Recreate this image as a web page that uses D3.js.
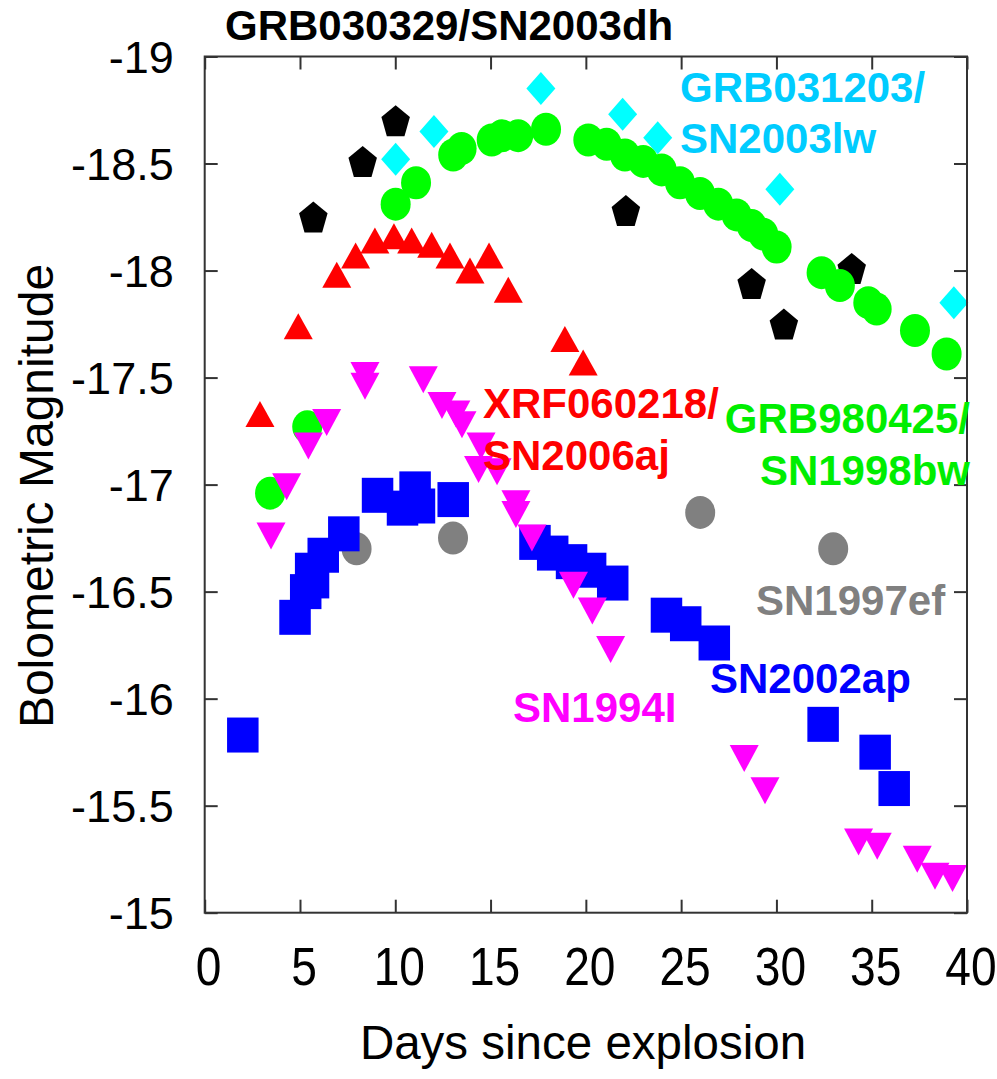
<!DOCTYPE html>
<html>
<head>
<meta charset="utf-8">
<script src="https://cdn.jsdelivr.net/npm/d3@7"></script>
<style>
  html, body { margin: 0; padding: 0; background: #fff; }
  svg { display: block; }
  text { font-family: "Liberation Sans", Arial, sans-serif; }
</style>
</head>
<body>
<svg id="chart" width="997" height="1079"></svg>
<script>
// ---------------- DATA ----------------
const xTicks = [0, 5, 10, 15, 20, 25, 30, 35, 40];
const yTicks = [-19, -18.5, -18, -17.5, -17, -16.5, -16, -15.5, -15];
const yTickLabels = ["-19", "-18.5", "-18", "-17.5", "-17", "-16.5", "-16", "-15.5", "-15"];

// GRB030329/SN2003dh (black pentagons)
const sn2003dhDays = [5.70, 8.29, 10.02, 22.10, 28.70, 30.39, 33.95];
const sn2003dhMag  = [-18.25, -18.51, -18.70, -18.28, -17.94, -17.75, -18.01];

// GRB031203/SN2003lw (cyan diamonds)
const sn2003lwDays = [10.02, 12.03, 17.64, 21.93, 23.77, 30.18, 39.31];
const sn2003lwMag  = [-18.52, -18.65, -18.85, -18.73, -18.62, -18.38, -17.85];

// GRB980425/SN1998bw (green circles)
const sn1998bwDays = [3.43, 5.38, 10.02, 11.09, 13.04, 13.48, 15.06, 15.60, 16.45, 17.91,
                      20.13, 21.09, 22.05, 23.01, 23.98, 24.94, 25.99, 26.95, 27.91, 28.70,
                      29.31, 30.01, 32.37, 33.33, 34.82, 35.26, 37.27, 38.93];
const sn1998bwMag  = [-16.96, -17.27, -18.31, -18.41, -18.54, -18.57, -18.61, -18.63, -18.63, -18.66,
                      -18.61, -18.59, -18.54, -18.51, -18.47, -18.41, -18.36, -18.31, -18.26, -18.21,
                      -18.17, -18.11, -17.99, -17.93, -17.85, -17.82, -17.72, -17.61];

// XRF060218/SN2006aj (red triangles)
const sn2006ajDays = [2.90, 4.91, 6.93, 7.92, 8.93, 9.93, 10.86, 11.91, 12.87, 13.92, 14.92, 15.93, 18.90, 19.86];
const sn2006ajMag  = [-17.33, -17.74, -17.98, -18.07, -18.14, -18.16, -18.14, -18.12, -18.07, -18.00, -18.07, -17.91, -17.68, -17.57];

// SN1997ef (grey circles)
const sn1997efDays = [7.97, 13.03, 26.00, 32.98];
const sn1997efMag  = [-16.70, -16.75, -16.87, -16.70];

// SN2002ap (blue squares)
const sn2002apDays = [2.00, 4.74, 5.30, 5.71, 5.56, 6.22, 7.30, 9.07, 10.38, 11.04, 11.27, 13.04,
                      17.33, 18.26, 19.25, 20.25, 21.41, 24.23, 25.24, 26.74, 32.45, 35.18, 36.18];
const sn2002apMag  = [-15.83, -16.38, -16.50, -16.55, -16.60, -16.67, -16.77, -16.95, -16.89, -16.98, -16.90, -16.93,
                      -16.73, -16.68, -16.64, -16.60, -16.54, -16.39, -16.35, -16.26, -15.88, -15.75, -15.58];

// SN1994I (magenta inverted triangles)
const sn1994IDays = [3.48, 4.30, 5.44, 6.40, 8.41, 8.41, 11.47, 12.45, 13.18, 13.50, 14.50, 14.37, 15.34,
                     16.33, 16.33, 17.17, 19.35, 20.34, 21.30, 28.31, 29.40, 34.31, 35.29, 37.39, 38.32, 39.24];
const sn1994IMag  = [-16.76, -16.99, -17.18, -17.29, -17.51, -17.46, -17.49, -17.37, -17.33, -17.28, -17.18, -17.07, -17.06,
                     -16.91, -16.86, -16.75, -16.53, -16.41, -16.23, -15.72, -15.57, -15.33, -15.31, -15.25, -15.17, -15.16];

// ---------------- CHART ----------------
const svg = d3.select("#chart");
const pL = 204.7, pR = 967, pT = 56.5, pB = 912.7;
const x = d3.scaleLinear().domain([0, 40]).range([pL, pR]);
const y = d3.scaleLinear().domain([-19, -15]).range([pT, pB]);

const zip = (a, b) => a.map((d, i) => ({ d: d, m: b[i] }));

const plot = svg.append("g");

function pentagon(w, h) {
  const R = w / 1.902, sy = h / (1.809 * R);
  const pts = d3.range(5).map(i => {
    const a = (-90 + 72 * i) * Math.PI / 180;
    return [R * Math.cos(a), R * Math.sin(a) * sy + 0.095 * R * sy];
  });
  return "M" + pts.map(p => p.join(",")).join("L") + "Z";
}
function diamond(w, h) { return `M0,${-h/2}L${w/2},0L0,${h/2}L${-w/2},0Z`; }
function triUp(w, h) { return `M0,${-h/2}L${w/2},${h/2}L${-w/2},${h/2}Z`; }
function triDown(w, h) { return `M0,${h/2}L${w/2},${-h/2}L${-w/2},${-h/2}Z`; }

function drawPath(data, pathStr, color) {
  plot.append("g").selectAll("path").data(data).join("path")
    .attr("d", pathStr)
    .attr("transform", p => `translate(${x(p.d)},${y(p.m)})`)
    .attr("fill", color);
}
function drawEllipse(data, rx, ry, color) {
  plot.append("g").selectAll("ellipse").data(data).join("ellipse")
    .attr("cx", p => x(p.d)).attr("cy", p => y(p.m))
    .attr("rx", rx).attr("ry", ry)
    .attr("fill", color);
}
function drawRect(data, w, h, color) {
  plot.append("g").selectAll("rect").data(data).join("rect")
    .attr("x", p => x(p.d) - w / 2).attr("y", p => y(p.m) - h / 2)
    .attr("width", w).attr("height", h)
    .attr("fill", color);
}

drawEllipse(zip(sn1997efDays, sn1997efMag), 15, 16.5, "#808080");
drawPath(zip(sn2003dhDays, sn2003dhMag), pentagon(28.5, 31), "#000000");
drawPath(zip(sn2003lwDays, sn2003lwMag), diamond(29, 33), "#00ffff");
drawEllipse(zip(sn1998bwDays, sn1998bwMag), 15, 16.5, "#00ff00");
drawPath(zip(sn2006ajDays, sn2006ajMag), triUp(29, 26), "#ff0000");
drawRect(zip(sn2002apDays, sn2002apMag), 31.5, 35, "#0000ff");
drawPath(zip(sn1994IDays, sn1994IMag), triDown(29, 27), "#ff00ff");

// ---------------- AXES ----------------
const frameColor = "#333333";
const tickLen = 13;

const gBottom = svg.append("g").attr("transform", `translate(0,${pB})`)
  .call(d3.axisBottom(x).tickValues(xTicks).tickSizeInner(-tickLen).tickSizeOuter(0).tickFormat(d3.format("d")));
gBottom.selectAll("text")
  .attr("y", 72).attr("dy", 0).attr("dx", 4)
  .attr("font-size", 53).attr("fill", "#000")
  .attr("transform", "scale(0.87,1)");

const gTop = svg.append("g").attr("transform", `translate(0,${pT})`)
  .call(d3.axisTop(x).tickValues(xTicks).tickSizeInner(-tickLen).tickSizeOuter(0).tickFormat(""));

const gLeft = svg.append("g").attr("transform", `translate(${pL},0)`)
  .call(d3.axisLeft(y).tickValues(yTicks).tickSizeInner(-tickLen).tickSizeOuter(0)
    .tickFormat((d, i) => yTickLabels[i]));
gLeft.selectAll("text")
  .attr("x", -31).attr("dy", "0.36em")
  .attr("font-size", 45).attr("fill", "#000");

const gRight = svg.append("g").attr("transform", `translate(${pR},0)`)
  .call(d3.axisRight(y).tickValues(yTicks).tickSizeInner(-tickLen).tickSizeOuter(0).tickFormat(""));

[gBottom, gTop, gLeft, gRight].forEach(g => {
  g.select(".domain").remove();
  g.selectAll(".tick line").attr("stroke", frameColor).attr("stroke-width", 2);
});

svg.append("rect")
  .attr("x", pL).attr("y", pT)
  .attr("width", pR - pL).attr("height", pB - pT)
  .attr("fill", "none").attr("stroke", frameColor).attr("stroke-width", 2);

svg.append("text")
  .attr("x", 583).attr("y", 1059)
  .attr("text-anchor", "middle")
  .attr("font-size", 47.5).attr("fill", "#000")
  .text("Days since explosion");

svg.append("text")
  .attr("transform", "translate(53,496) rotate(-90)")
  .attr("text-anchor", "middle")
  .attr("font-size", 48).attr("fill", "#000")
  .text("Bolometric Magnitude");

// ---------------- LABELS ----------------
svg.append("text")
  .attr("x", 225).attr("y", 40)
  .attr("font-size", 42).attr("font-weight", "bold").attr("fill", "#000")
  .text("GRB030329/SN2003dh");

const labels = [
  { lines: ["GRB031203/", "SN2003lw"], x: 680, y: 101.7, anchor: "start", color: "#00ccff" },
  { lines: ["XRF060218/", "SN2006aj"], x: 483, y: 418, anchor: "start", color: "#ff0000" },
  { lines: ["GRB980425/", "SN1998bw"], x: 970, y: 433, anchor: "end", color: "#00ee00" },
  { lines: ["SN1997ef"], x: 756, y: 615, anchor: "start", color: "#808080" },
  { lines: ["SN2002ap"], x: 710, y: 693, anchor: "start", color: "#0000ff" },
  { lines: ["SN1994I"], x: 513, y: 722, anchor: "start", color: "#ff00ff" }
];
labels.forEach(l => {
  l.lines.forEach((t, i) => {
    svg.append("text")
      .attr("x", l.x).attr("y", l.y + i * 51.5)
      .attr("text-anchor", l.anchor)
      .attr("font-size", 42).attr("font-weight", "bold")
      .attr("fill", l.color)
      .text(t);
  });
});
</script>
</body>
</html>
